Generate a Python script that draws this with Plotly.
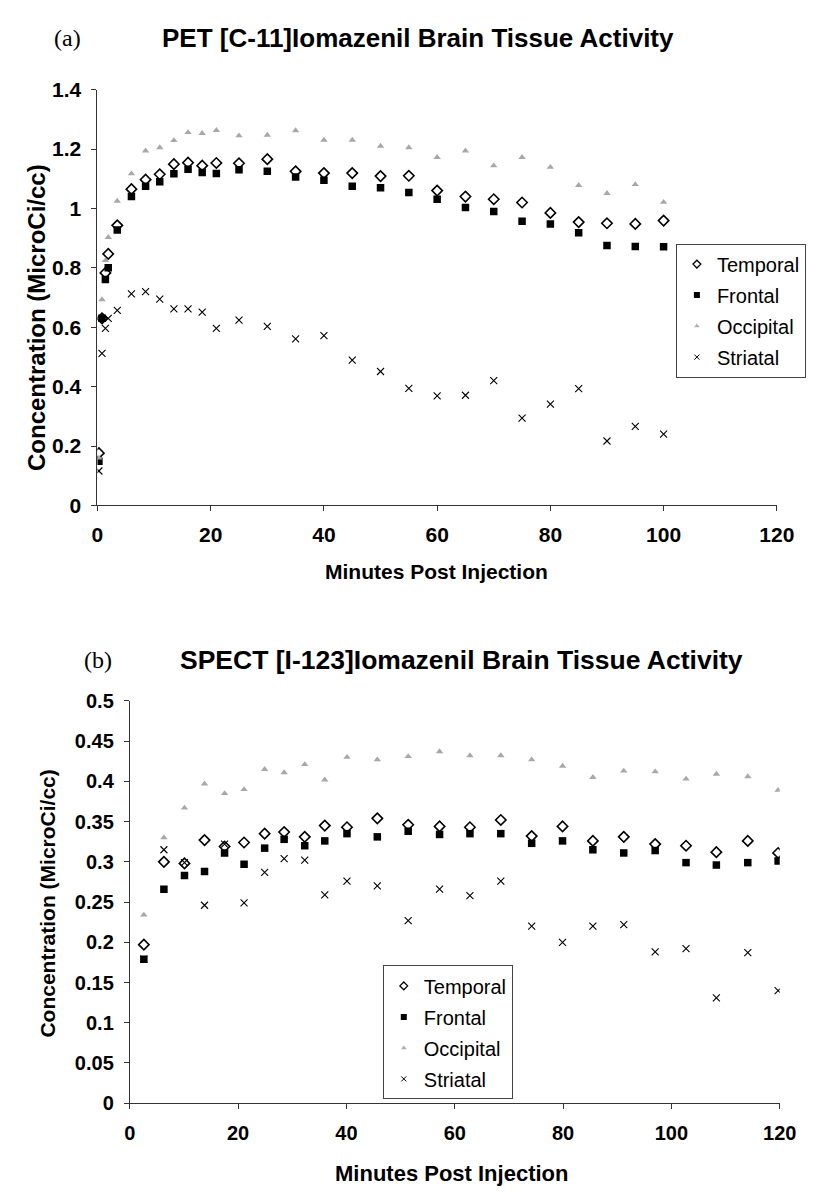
import plotly.graph_objects as go

# --- Data: (a) PET [C-11]Iomazenil ---
PET_MINUTES = [0.25, 0.8, 1.4, 1.9, 3.5, 6, 8.5, 11, 13.5, 16, 18.5, 21, 25, 30,
               35, 40, 45, 50, 55, 60, 65, 70, 75, 80, 85, 90, 95, 100]
PET_TEMPORAL = [0.176, 0.630, 0.783, 0.847, 0.943, 1.065, 1.097, 1.115, 1.149, 1.154, 1.144, 1.153, 1.152, 1.166,
                1.125, 1.119, 1.119, 1.109, 1.110, 1.060, 1.040, 1.031, 1.020, 0.985, 0.954, 0.950, 0.948, 0.959]
PET_FRONTAL = [0.149, 0.630, 0.761, 0.800, 0.927, 1.040, 1.075, 1.090, 1.117, 1.132, 1.121, 1.118, 1.130, 1.125,
               1.106, 1.095, 1.075, 1.070, 1.054, 1.031, 1.003, 0.990, 0.957, 0.948, 0.918, 0.875, 0.872, 0.871]
PET_OCCIPITAL = [0.160, 0.693, 0.825, 0.903, 1.025, 1.117, 1.194, 1.205, 1.229, 1.256, 1.253, 1.263, 1.245, 1.247,
                 1.262, 1.230, 1.230, 1.210, 1.205, 1.172, 1.194, 1.144, 1.172, 1.139, 1.078, 1.051, 1.081, 1.021]
PET_STRIATAL = [0.116, 0.512, 0.596, 0.630, 0.657, 0.712, 0.720, 0.695, 0.662, 0.662, 0.651, 0.596, 0.624, 0.603,
                0.561, 0.572, 0.489, 0.451, 0.394, 0.369, 0.371, 0.420, 0.294, 0.341, 0.393, 0.217, 0.266, 0.240]

# --- Data: (b) SPECT [I-123]Iomazenil ---
SPECT_MINUTES = [2.6, 6.3, 10.1, 13.8, 17.5, 21.1, 24.9, 28.5, 32.3, 36.0, 40.1, 45.7, 51.4,
                 57.2, 62.8, 68.5, 74.2, 79.9, 85.5, 91.2, 97.0, 102.7, 108.3, 114.1, 119.7]
SPECT_TEMPORAL = [0.197, 0.300, 0.298, 0.327, 0.319, 0.324, 0.335, 0.337, 0.331, 0.345, 0.343, 0.354, 0.346,
                  0.344, 0.343, 0.352, 0.332, 0.344, 0.326, 0.331, 0.322, 0.320, 0.312, 0.326, 0.311]
SPECT_FRONTAL = [0.179, 0.266, 0.283, 0.288, 0.311, 0.297, 0.317, 0.328, 0.320, 0.326, 0.335, 0.331, 0.338,
                 0.334, 0.335, 0.335, 0.323, 0.326, 0.315, 0.311, 0.314, 0.299, 0.296, 0.299, 0.301]
SPECT_OCCIPITAL = [0.234, 0.330, 0.367, 0.397, 0.385, 0.390, 0.415, 0.411, 0.421, 0.402, 0.430, 0.427, 0.431,
                   0.437, 0.432, 0.432, 0.427, 0.419, 0.405, 0.413, 0.412, 0.403, 0.409, 0.406, 0.389]
SPECT_STRIATAL = [0.179, 0.315, 0.299, 0.246, 0.322, 0.249, 0.287, 0.304, 0.302, 0.259, 0.276, 0.270, 0.227,
                  0.266, 0.258, 0.276, 0.220, 0.200, 0.220, 0.222, 0.188, 0.192, 0.131, 0.187, 0.140]

REGIONS = ["Temporal", "Frontal", "Occipital", "Striatal"]
FONT = "Liberation Sans, Arial, sans-serif"
SERIF = "Liberation Serif, Times New Roman, serif"
W, H = 814, 1192

MARKERS = {
    "Temporal": dict(symbol="diamond-open", size=8, color="black", line=dict(width=1.6, color="black")),
    "Frontal": dict(symbol="square", size=7.5, color="black"),
    "Occipital": dict(symbol="triangle-up", size=6.5, color="#a8a8a8"),
    "Striatal": dict(symbol="x-thin", size=7, color="black", line=dict(width=1.1, color="black")),
}
# smaller symbols shown in the legend boxes
LEGEND_MARKERS = {
    "Temporal": dict(symbol="diamond-open", size=6, color="black", line=dict(width=1.3, color="black")),
    "Frontal": dict(symbol="square", size=6, color="black"),
    "Occipital": dict(symbol="triangle-up", size=5, color="#b0b0b0"),
    "Striatal": dict(symbol="x-thin", size=5, color="black", line=dict(width=1, color="black")),
}


def px_x(p):
    return p / W


def px_y(p):
    return 1 - p / H


fig = go.Figure()

panels = [
    (PET_MINUTES, [PET_TEMPORAL, PET_FRONTAL, PET_OCCIPITAL, PET_STRIATAL], "x", "y", "legend"),
    (SPECT_MINUTES, [SPECT_TEMPORAL, SPECT_FRONTAL, SPECT_OCCIPITAL, SPECT_STRIATAL], "x2", "y2", "legend2"),
]
for minutes, series, xa, ya, lg in panels:
    for name, vals in zip(REGIONS, series):
        fig.add_trace(go.Scatter(
            x=minutes, y=vals, name=name, mode="markers",
            marker=MARKERS[name], xaxis=xa, yaxis=ya, showlegend=False,
        ))
    # legend-only entries
    for name in REGIONS:
        fig.add_trace(go.Scatter(
            x=[None], y=[None], name=name, mode="markers",
            marker=LEGEND_MARKERS[name], xaxis=xa, yaxis=ya, legend=lg,
            legendgroup=lg + name,
        ))

axis_common = dict(
    showline=True, linecolor="#333", linewidth=1, mirror=False,
    ticks="outside", ticklen=5, tickcolor="#333", showgrid=False, zeroline=False,
)

legend_common = dict(
    font=dict(family=FONT, size=20, color="black"),
    bordercolor="#444", borderwidth=1, bgcolor="white",
    xanchor="left", yanchor="top", tracegroupgap=2, itemwidth=30,
)


def tfont(size):
    return dict(family=FONT, size=size, color="black", weight="bold")


fig.update_layout(
    width=W, height=H,
    margin=dict(l=0, r=0, t=0, b=0),
    paper_bgcolor="white", plot_bgcolor="white",
    xaxis=dict(domain=[px_x(86), px_x(786)], range=[0, 120], dtick=20, anchor="y",
               ticklabelstandoff=5, tickfont=tfont(21), **axis_common),
    yaxis=dict(domain=[px_y(495), px_y(71)], range=[0, 1.4], dtick=0.2, anchor="x",
               ticklabelstandoff=6, tickfont=tfont(21), **axis_common),
    xaxis2=dict(domain=[px_x(119.3), px_x(789)], range=[0, 120], dtick=20, anchor="y2",
                ticklabelstandoff=7, tickfont=tfont(20), **axis_common),
    yaxis2=dict(domain=[px_y(1104.5), px_y(694.3)], range=[0, 0.5], dtick=0.05, anchor="x2",
                ticklabelstandoff=6, tickfont=tfont(20), **axis_common),
    legend=dict(x=px_x(682), y=px_y(228), **legend_common),
    legend2=dict(x=px_x(380), y=px_y(964), **legend_common),
)

annotations = [
    # panel labels
    dict(text="(a)", x=px_x(55), y=px_y(18), font=dict(family=SERIF, size=24, color="black")),
    dict(text="(b)", x=px_x(87), y=px_y(653), font=dict(family=SERIF, size=24, color="black")),
    # titles
    dict(text="PET [C-11]Iomazenil Brain Tissue Activity", x=px_x(416), y=px_y(18), font=tfont(26)),
    dict(text="SPECT [I-123]Iomazenil Brain Tissue Activity", x=px_x(461), y=px_y(653), font=tfont(26.5)),
    # x titles
    dict(text="Minutes Post Injection", x=px_x(435), y=px_y(562), font=tfont(21)),
    dict(text="Minutes Post Injection", x=px_x(451), y=px_y(1176), font=tfont(22)),
    # y titles
    dict(text="Concentration (MicroCi/cc)", x=px_x(22.5), y=px_y(303), textangle=-90, font=tfont(24)),
    dict(text="Concentration (MicroCi/cc)", x=px_x(35), y=px_y(901), textangle=-90, font=tfont(21)),
]
for a in annotations:
    fig.add_annotation(xref="paper", yref="paper", showarrow=False,
                       xanchor="center", yanchor="middle", **a)

fig.write_html("out.html")
